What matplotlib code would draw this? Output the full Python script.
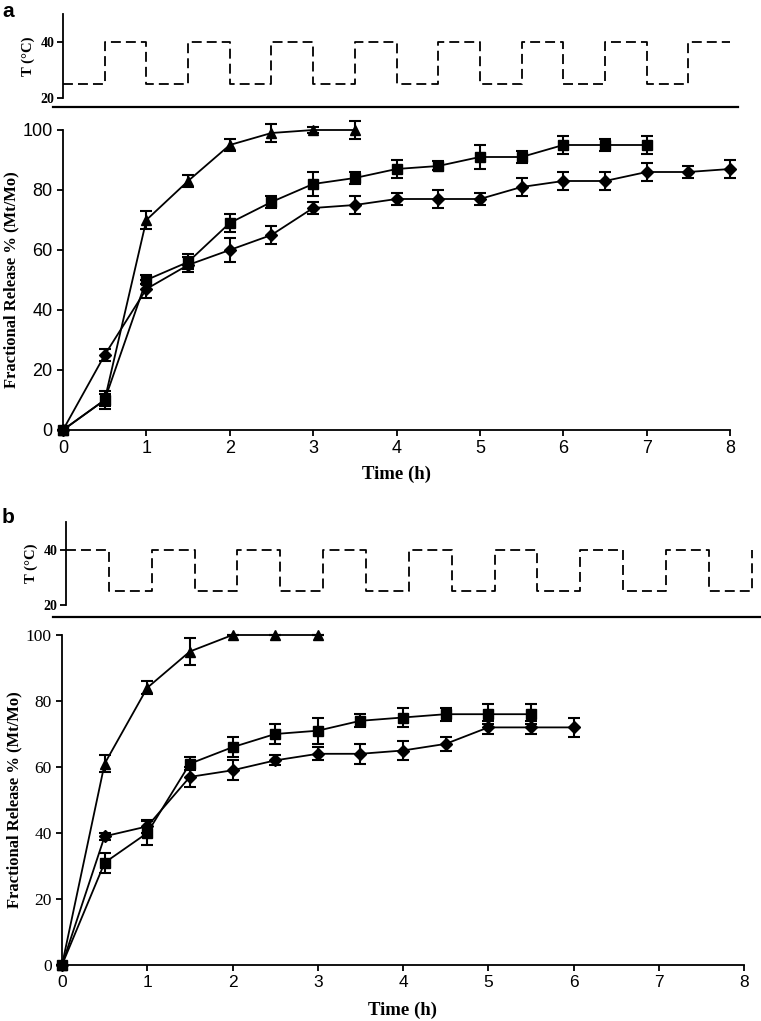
import matplotlib
matplotlib.use("Agg")
import matplotlib.pyplot as plt
from matplotlib.lines import Line2D

# ---- data ----
temp_time = [0, 0.5, 1, 1.5, 2, 2.5, 3, 3.5, 4, 4.5, 5, 5.5, 6, 6.5, 7, 7.5, 8]
temp_a = [25, 40, 25, 40, 25, 40, 25, 40, 25, 40, 25, 40, 25, 40, 25, 40, 40]
temp_b = [40, 25, 40, 25, 40, 25, 40, 25, 40, 25, 40, 25, 40, 25, 40, 25, 40]

# panel a
tri_time_a = [0, 0.5, 1, 1.5, 2, 2.5, 3, 3.5]
tri_rel_a = [0, 10, 70, 83, 95, 99, 100, 100]
tri_err_a = [0, 2, 3, 2, 2, 3, 1, 3]

sq_time_a = [0, 0.5, 1, 1.5, 2, 2.5, 3, 3.5, 4, 4.5, 5, 5.5, 6, 6.5, 7]
sq_rel_a = [0, 10, 50, 56, 69, 76, 82, 84, 87, 88, 91, 91, 95, 95, 95]
sq_err_a = [0, 3, 1.5, 2.5, 3, 2, 4, 2, 3, 1.5, 4, 2, 3, 2, 3]

dia_time_a = [0, 0.5, 1, 1.5, 2, 2.5, 3, 3.5, 4, 4.5, 5, 5.5, 6, 6.5, 7, 7.5, 8]
dia_rel_a = [0, 25, 47, 55, 60, 65, 74, 75, 77, 77, 77, 81, 83, 83, 86, 86, 87]
dia_err_a = [0, 2, 3, 2.5, 4, 3, 2, 3, 2, 3, 2, 3, 3, 3, 3, 2, 3]

# panel b
tri_time_b = [0, 0.5, 1, 1.5, 2, 2.5, 3]
tri_rel_b = [0, 61, 84, 95, 100, 100, 100]
tri_err_b = [0, 2.5, 2, 4, 0, 0, 0]

sq_time_b = [0, 0.5, 1, 1.5, 2, 2.5, 3, 3.5, 4, 4.5, 5, 5.5]
sq_rel_b = [0, 31, 40, 61, 66, 70, 71, 74, 75, 76, 76, 76]
sq_err_b = [0, 3, 3.5, 2, 3, 3, 4, 2, 3, 2, 3, 3]

dia_time_b = [0, 0.5, 1, 1.5, 2, 2.5, 3, 3.5, 4, 4.5, 5, 5.5, 6]
dia_rel_b = [0, 39, 42, 57, 59, 62, 64, 64, 65, 67, 72, 72, 72]
dia_err_b = [0, 1, 2, 3, 3, 1.5, 2, 3, 3, 2, 2, 2, 3]

x_ticks = [0, 1, 2, 3, 4, 5, 6, 7, 8]
y_ticks = [0, 20, 40, 60, 80, 100]
t_ticks = [20, 40]

W, H = 761, 1021
fig = plt.figure(figsize=(W / 100, H / 100), dpi=100)


def box(left, top, right, bottom):
    return [left / W, 1 - bottom / H, (right - left) / W, (bottom - top) / H]


serif = "Liberation Serif"
sans = "Liberation Sans"


def temp_panel(rect, values, xmax):
    ax = fig.add_axes(rect)
    ax.plot(temp_time, values, color="black", lw=1.3,
            ls=(0, (5.5, 2.8)), drawstyle="steps-post", clip_on=False)
    ax.set_xlim(0, xmax)
    ax.set_ylim(20, 50)
    for s in ["top", "right", "bottom"]:
        ax.spines[s].set_visible(False)
    ax.spines["left"].set_linewidth(1.3)
    ax.set_xticks([])
    ax.set_yticks(t_ticks)
    ax.tick_params(axis="y", direction="out", length=4, width=1.3, pad=2)
    for lab in ax.get_yticklabels():
        lab.set_fontfamily(serif)
        lab.set_fontweight("bold")
        lab.set_fontsize(10)
    ax.set_ylabel("T (°C)", fontfamily=serif, fontweight="bold",
                  fontsize=10.5, labelpad=4)
    return ax


def release_panel(rect, series, tick_font, tick_size, labelpad):
    ax = fig.add_axes(rect)
    for t, r, e, m, ms in series:
        ax.errorbar(t, r, yerr=e, color="black", lw=1.3, marker=m,
                    markersize=ms, capsize=4, elinewidth=1.5, capthick=1.5,
                    clip_on=False, zorder=3)
    ax.set_xlim(0, 8)
    ax.set_ylim(0, 100)
    ax.set_xticks(x_ticks)
    ax.set_yticks(y_ticks)
    for s in ["top", "right"]:
        ax.spines[s].set_visible(False)
    for s in ["left", "bottom"]:
        ax.spines[s].set_linewidth(1.3)
    ax.tick_params(direction="out", length=4, width=1.3)
    for lab in ax.get_xticklabels():
        lab.set_fontfamily(sans)
        lab.set_fontsize(tick_size)
    for lab in ax.get_yticklabels():
        lab.set_fontfamily(tick_font)
        lab.set_fontsize(tick_size)
    ax.set_xlabel("Time (h)", fontfamily=serif, fontweight="bold",
                  fontsize=13.5, labelpad=labelpad)
    ax.set_ylabel("Fractional Release % (Mt/Mo)", fontfamily=serif,
                  fontweight="bold", fontsize=12, labelpad=2)
    return ax


# ---- panel a ----
temp_panel(box(63, 14, 730, 98), temp_a, 8)
fig.text(2 / W, 1 - 2 / H, "a", fontfamily=sans, fontweight="bold",
         fontsize=15, va="top", ha="left")
fig.add_artist(Line2D([53 / W, 738 / W], [1 - 107 / H, 1 - 107 / H],
                      color="black", lw=1.6))
release_panel(box(63, 130, 730, 430),
              [(tri_time_a, tri_rel_a, tri_err_a, "^", 7.5),
               (sq_time_a, sq_rel_a, sq_err_a, "s", 6.5),
               (dia_time_a, dia_rel_a, dia_err_a, "D", 6)],
              sans, 13, 6)

# ---- panel b ----
temp_panel(box(66, 522, 761, 605), temp_b, (761 - 66) / 85.7)
fig.text(2 / W, 1 - 508 / H, "b", fontfamily=sans, fontweight="bold",
         fontsize=15, va="top", ha="left")
fig.add_artist(Line2D([53 / W, 761 / W], [1 - 617 / H, 1 - 617 / H],
                      color="black", lw=1.6))
release_panel(box(62, 635, 744, 965),
              [(tri_time_b, tri_rel_b, tri_err_b, "^", 7.5),
               (sq_time_b, sq_rel_b, sq_err_b, "s", 6.5),
               (dia_time_b, dia_rel_b, dia_err_b, "D", 6)],
              serif, 12.5, 8)

fig.savefig("out.png", dpi=100)
